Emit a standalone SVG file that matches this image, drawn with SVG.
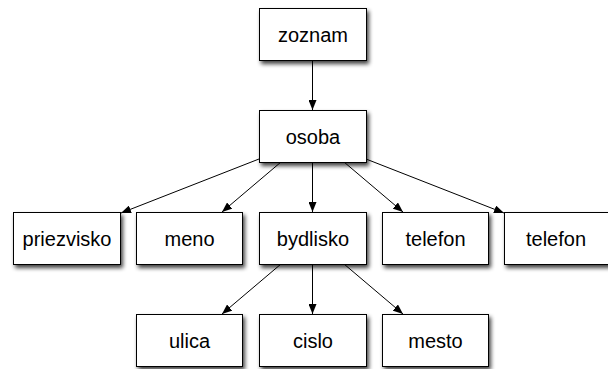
<svg xmlns="http://www.w3.org/2000/svg" width="608" height="369" viewBox="0 0 608 369">
<style>
.box{fill:#fff;stroke:#000;stroke-width:1;filter:url(#sh)}
.lbl{font-family:"Liberation Sans",Arial,Helvetica,sans-serif;font-size:20px;fill:#000;text-anchor:middle}
.edge{stroke:#000;stroke-width:1;fill:none;marker-end:url(#ah)}
</style>
<defs>
<filter id="sh" x="-20%" y="-20%" width="150%" height="160%">
<feGaussianBlur in="SourceAlpha" stdDeviation="2"/>
<feOffset dx="2" dy="3" result="b"/>
<feComponentTransfer><feFuncA type="linear" slope="0.75"/></feComponentTransfer>
<feMerge><feMergeNode/><feMergeNode in="SourceGraphic"/></feMerge>
</filter>
<marker id="ah" viewBox="0 0 10 8" refX="10" refY="4" markerWidth="10" markerHeight="8" markerUnits="userSpaceOnUse" orient="auto">
<path d="M0,0 L10,4 L0,8 z" fill="#000"/>
</marker>
</defs>
<g id="connectors">
<line class="edge" x1="312.5" y1="60" x2="312.5" y2="110"/>
<line class="edge" x1="259" y1="159" x2="121" y2="213"/>
<line class="edge" x1="281" y1="162" x2="222" y2="212"/>
<line class="edge" x1="312.5" y1="162" x2="312.5" y2="212"/>
<line class="edge" x1="344" y1="162" x2="403" y2="212"/>
<line class="edge" x1="366" y1="159" x2="504" y2="213"/>
<line class="edge" x1="281" y1="264" x2="222" y2="314"/>
<line class="edge" x1="312.5" y1="264" x2="312.5" y2="314"/>
<line class="edge" x1="344" y1="264" x2="403" y2="314"/>
</g>
<g id="zoznam"><rect class="box" x="259.5" y="8.5" width="107" height="52"/><text class="lbl" x="313" y="42">zoznam</text></g>
<g id="osoba"><rect class="box" x="259.5" y="110.5" width="107" height="52"/><text class="lbl" x="313" y="144">osoba</text></g>
<g id="priezvisko"><rect class="box" x="13.5" y="212.5" width="107" height="52"/><text class="lbl" x="67" y="246">priezvisko</text></g>
<g id="meno"><rect class="box" x="136.5" y="212.5" width="106" height="52"/><text class="lbl" x="189.5" y="246">meno</text></g>
<g id="bydlisko"><rect class="box" x="259.5" y="212.5" width="107" height="52"/><text class="lbl" x="313" y="246">bydlisko</text></g>
<g id="telefon1"><rect class="box" x="382.5" y="212.5" width="106" height="52"/><text class="lbl" x="435.5" y="246">telefon</text></g>
<g id="telefon2"><rect class="box" x="504.5" y="212.5" width="107" height="52"/><text class="lbl" x="556" y="246">telefon</text></g>
<g id="ulica"><rect class="box" x="136.5" y="314.5" width="106" height="52"/><text class="lbl" x="189.5" y="348">ulica</text></g>
<g id="cislo"><rect class="box" x="259.5" y="314.5" width="107" height="52"/><text class="lbl" x="313" y="348">cislo</text></g>
<g id="mesto"><rect class="box" x="382.5" y="314.5" width="106" height="52"/><text class="lbl" x="435.5" y="348">mesto</text></g>
</svg>
